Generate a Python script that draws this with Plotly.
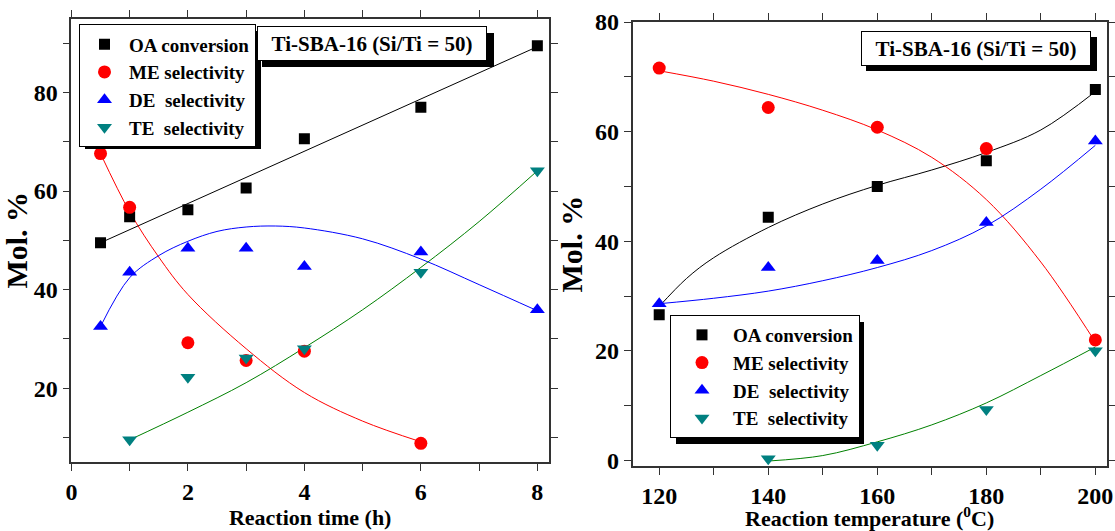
import plotly.graph_objects as go

# ---------------- data: left panel (reaction time) ----------------
time_h = [0.5, 1, 2, 3, 4, 6, 8]
oa_time = [49.5, 54.8, 56.2, 60.6, 70.6, 77.0, 89.5]
me_time_x = [0.5, 1, 2, 3, 4, 6]
me_time = [67.6, 56.7, 29.2, 25.6, 27.5, 8.8]
de_time = [32.5, 43.5, 48.4, 48.4, 44.7, 47.6, 35.9]
te_time_x = [1, 2, 3, 4, 6, 8]
te_time = [9.5, 22.2, 26.1, 28.0, 43.5, 64.1]

# fitted curves
oa_fit_t_x = [0.5, 8]
oa_fit_t = [49.5, 89.3]
me_fit_t_x = [0.5, 1, 1.5, 2, 3, 4, 5, 6]
me_fit_t = [67.6, 55.8, 46.6, 39.0, 28.0, 19.1, 13.3, 9.1]
de_fit_t_x = [0.5, 1, 1.5, 2, 2.5, 3, 3.5, 4, 5, 6, 7, 8]
de_fit_t = [32.5, 42.4, 46.9, 49.8, 51.8, 52.7, 52.9, 52.5, 50.3, 46.2, 41.0, 35.7]
te_fit_t_x = [1, 2, 3, 4, 5, 6, 7, 8]
te_fit_t = [9.5, 15.1, 21.1, 28.2, 35.9, 44.5, 53.8, 64.1]

# ---------------- data: right panel (reaction temperature) ----------------
temp_c = [120, 140, 160, 180, 200]
oa_temp = [26.6, 44.4, 50.0, 54.7, 67.7]
me_temp = [71.6, 64.4, 60.8, 56.9, 22.0]
de_temp = [28.6, 35.2, 36.5, 43.4, 58.3]
te_temp_x = [140, 160, 180, 200]
te_temp = [0.3, 2.8, 9.3, 20.0]

oa_fit_c_x = [120, 125, 130, 140, 150, 160, 170, 180, 190, 200]
oa_fit_c = [28.1, 33.2, 37.0, 42.5, 46.8, 50.2, 53.0, 56.2, 60.3, 67.3]
me_fit_c_x = [120, 130, 140, 150, 160, 170, 180, 190, 200]
me_fit_c = [71.1, 69.2, 66.8, 63.9, 60.3, 55.3, 47.6, 36.2, 21.6]
de_fit_c_x = [120, 130, 140, 150, 160, 170, 180, 190, 200]
de_fit_c = [28.6, 29.6, 30.9, 32.8, 35.2, 38.3, 42.8, 49.5, 57.5]
te_fit_c_x = [140, 150, 160, 170, 180, 190, 200]
te_fit_c = [-0.1, 0.9, 3.4, 6.5, 10.5, 15.5, 20.7]

names = ["OA conversion", "ME selectivity", "DE  selectivity", "TE  selectivity"]
mcolors = ["black", "#ff0000", "#0000ff", "#008080"]
lcolors = ["black", "#ff0000", "#0000ff", "#008000"]
symbols = ["square", "circle", "triangle-up", "triangle-down"]

W, H = 1115, 531
fig = go.Figure()

def add_panel(xa, ya, leg, pts, fits):
    for i, (fx, fy) in enumerate(fits):
        fig.add_trace(go.Scatter(x=fx, y=fy, mode="lines", line=dict(color=lcolors[i], width=1, shape="spline"),
                                 xaxis=xa, yaxis=ya, showlegend=False, hoverinfo="skip"))
    for i, (px, py) in enumerate(pts):
        fig.add_trace(go.Scatter(x=px, y=py, mode="markers", name=names[i],
                                 marker=dict(symbol=symbols[i], color=mcolors[i], size=13 if i else 11,
                                             line=dict(width=0)),
                                 xaxis=xa, yaxis=ya, legend=leg))

add_panel("x", "y", "legend",
          [(time_h, oa_time), (me_time_x, me_time), (time_h, de_time), (te_time_x, te_time)],
          [(oa_fit_t_x, oa_fit_t), (me_fit_t_x, me_fit_t), (de_fit_t_x, de_fit_t), (te_fit_t_x, te_fit_t)])
add_panel("x2", "y2", "legend2",
          [(temp_c, oa_temp), (temp_c, me_temp), (temp_c, de_temp), (te_temp_x, te_temp)],
          [(oa_fit_c_x, oa_fit_c), (me_fit_c_x, me_fit_c), (de_fit_c_x, de_fit_c), (te_fit_c_x, te_fit_c)])

minor_common = dict(ticks="outside", ticklen=7, tickwidth=1.2, tickcolor="#333")
axis_common = dict(showline=True, linecolor="#333", linewidth=1.5, mirror="ticks", ticks="outside",
                   ticklen=7, tickwidth=1.2, tickcolor="#333", showgrid=False, zeroline=False,
                   tickfont=dict(size=24), automargin=False)

def px2x(p):
    return p / W

def px2y(p):
    return 1 - p / H

fig.update_layout(
    template="none",
    width=W, height=H, margin=dict(l=0, r=0, t=0, b=0, pad=0),
    paper_bgcolor="white", plot_bgcolor="white",
    font=dict(family="Liberation Serif", size=22, color="black", weight="bold"),
    xaxis=dict(domain=[px2x(71.4), px2x(549)], range=[0, 8.2], tickvals=[0, 2, 4, 6, 8],
               minor=dict(tickvals=[1, 3, 5, 7], **minor_common),
               anchor="y", title=dict(text="Reaction time (h)", standoff=2, font=dict(size=22)),
               **axis_common),
    yaxis=dict(domain=[px2y(462), px2y(18.6)], range=[5, 95], tickvals=[20, 40, 60, 80],
               minor=dict(tickvals=[10, 30, 50, 70, 90], **minor_common),
               anchor="x", title=dict(text="Mol. %", standoff=3, font=dict(size=30)),
               **axis_common),
    xaxis2=dict(domain=[px2x(632.5), px2x(1106.8)], range=[115.1, 202.1], tickvals=[120, 140, 160, 180, 200],
                minor=dict(tickvals=[130, 150, 170, 190], **minor_common),
                anchor="y2", title=dict(text="Reaction temperature (<sup>0</sup>C)", standoff=4, font=dict(size=22)),
                **axis_common),
    yaxis2=dict(domain=[px2y(466.3), px2y(22)], range=[-1.06, 80], tickvals=[0, 20, 40, 60, 80],
                minor=dict(tickvals=[10, 30, 50, 70], **minor_common),
                anchor="x2", title=dict(text="Mol. %", standoff=3, font=dict(size=30)),
                **axis_common),
    legend=dict(x=px2x(79), y=px2y(24.4), xanchor="left", yanchor="top", bgcolor="white",
                bordercolor="black", borderwidth=1, font=dict(size=19), tracegroupgap=0, itemwidth=39),
    legend2=dict(x=px2x(670), y=px2y(315), xanchor="left", yanchor="top", bgcolor="white",
                 bordercolor="black", borderwidth=1, font=dict(size=19), tracegroupgap=0, itemwidth=52),
)

# shadows of legend boxes and label boxes
def shadow(x0, y0, x1, y1):
    fig.add_shape(type="rect", xref="paper", yref="paper", x0=px2x(x0), x1=px2x(x1), y0=px2y(y1), y1=px2y(y0),
                  fillcolor="black", line=dict(width=0), layer="above")

shadow(85, 31, 261, 149)
shadow(676, 322, 864, 444)
shadow(262, 33, 494, 67)
shadow(866, 37, 1097, 71)

for cx, cy in [(372, 43.5), (975.5, 48)]:
    fig.add_annotation(xref="paper", yref="paper", x=px2x(cx), y=px2y(cy), xanchor="center", yanchor="middle",
                       text="Ti-SBA-16 (Si/Ti = 50)", showarrow=False, font=dict(size=21),
                       bgcolor="white", bordercolor="black", borderwidth=1, width=224, height=29, borderpad=2)

fig.write_html("out.html", config={"displayModeBar": False},
               post_script="document.body.style.margin='0';")
